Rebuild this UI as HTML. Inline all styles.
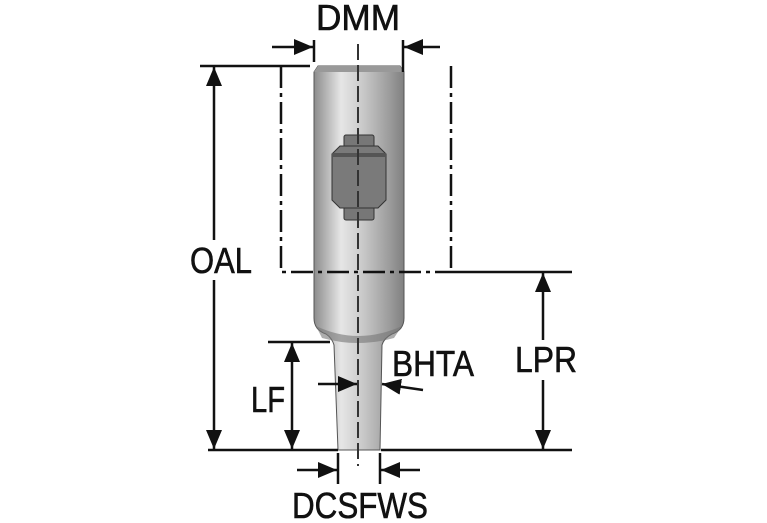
<!DOCTYPE html>
<html><head><style>body{margin:0;background:#fff}svg{display:block}text{font-family:"Liberation Sans",sans-serif;font-size:36px;fill:#111;stroke:#111;stroke-width:0.6}</style></head>
<body>
<svg width="767" height="523" viewBox="0 0 767 523" xmlns="http://www.w3.org/2000/svg">
<defs>
<linearGradient id="g" x1="0" x2="1" y1="0" y2="0">
<stop offset="0" stop-color="#8c8c8c"/><stop offset="0.3" stop-color="#e6e6e6"/><stop offset="0.55" stop-color="#c8c8c8"/><stop offset="0.85" stop-color="#9a9a9a"/><stop offset="1" stop-color="#808080"/>
</linearGradient>
<marker id="a" markerWidth="19" markerHeight="16" refX="19" refY="8" orient="auto-start-reverse" markerUnits="userSpaceOnUse" viewBox="0 0 19 16"><path d="M0,0L19,8L0,16z" fill="#111"/></marker>
</defs>
<path d="M318,66 L400,66 L404,72 L404,318 Q404,330 392,334 Q384,338 382,345 L380,450 L338,450 L334,345 Q332,338 326,334 Q314,330 314,318 L314,72 Z" fill="url(#g)" stroke="#555" stroke-width="1"/>
<path d="M318,66 L400,66 L404,72 L314,72Z" fill="#999"/>
<path d="M316,326 Q358,346 402,326 L394,338 Q358,348 322,338Z" fill="#777" opacity="0.6"/>
<rect x="344" y="135" width="30" height="14" rx="2" fill="#777" stroke="#333"/>
<rect x="344" y="206" width="30" height="14" rx="2" fill="#777" stroke="#333"/>
<path d="M340,146 L378,146 L386,154 L386,200 L378,208 L340,208 L332,200 L332,154Z" fill="#7a7a7a" stroke="#333"/>
<rect x="332" y="153" width="54" height="4" fill="#555"/>
<line x1="358" y1="44" x2="358" y2="466" stroke="#333" stroke-width="2" stroke-dasharray="16,5"/>
<g stroke="#111" stroke-width="2.5" fill="none">
<line x1="200" y1="66" x2="310" y2="66"/>
<path d="M281,66 L281,272 L455,272" stroke-dasharray="22,5,4,5"/>
<line x1="451" y1="66" x2="451" y2="272" stroke-dasharray="22,5,4,5"/>
<line x1="455" y1="272" x2="572" y2="272"/>
<line x1="208" y1="450" x2="338" y2="450"/>
<line x1="381" y1="450" x2="572" y2="450"/>
<line x1="268" y1="342" x2="330" y2="342"/>
<line x1="314" y1="40" x2="314" y2="62"/>
<line x1="403" y1="40" x2="403" y2="72"/>
<line x1="338" y1="453" x2="338" y2="484"/>
<line x1="380" y1="453" x2="380" y2="484"/>
</g>
<g stroke="#111" stroke-width="2.5" fill="none">
<line x1="272" y1="47" x2="313" y2="47" marker-end="url(#a)"/>
<line x1="440" y1="47" x2="404" y2="47" marker-end="url(#a)"/>
<line x1="214" y1="67" x2="214" y2="449" marker-start="url(#a)" marker-end="url(#a)"/>
<line x1="292" y1="343" x2="292" y2="449" marker-start="url(#a)" marker-end="url(#a)"/>
<line x1="543" y1="273" x2="543" y2="449" marker-start="url(#a)" marker-end="url(#a)"/>
<line x1="318" y1="384" x2="357" y2="384" marker-end="url(#a)"/>
<line x1="423" y1="390" x2="382" y2="384" marker-end="url(#a)"/>
<line x1="297" y1="470" x2="337" y2="470" marker-end="url(#a)"/>
<line x1="420" y1="470" x2="381" y2="470" marker-end="url(#a)"/>
</g>
<rect x="188" y="240" width="66" height="40" fill="#fff"/>
<rect x="513" y="340" width="66" height="40" fill="#fff"/>
<text x="358" y="30" text-anchor="middle" textLength="84" lengthAdjust="spacingAndGlyphs">DMM</text>
<text x="221" y="273" text-anchor="middle" textLength="62" lengthAdjust="spacingAndGlyphs">OAL</text>
<text x="268" y="412" text-anchor="middle" textLength="34" lengthAdjust="spacingAndGlyphs">LF</text>
<text x="546" y="372" text-anchor="middle" textLength="62" lengthAdjust="spacingAndGlyphs">LPR</text>
<text x="433" y="376" text-anchor="middle" textLength="82" lengthAdjust="spacingAndGlyphs">BHTA</text>
<text x="360" y="518" text-anchor="middle" textLength="136" lengthAdjust="spacingAndGlyphs">DCSFWS</text>
</svg>
</body></html>
